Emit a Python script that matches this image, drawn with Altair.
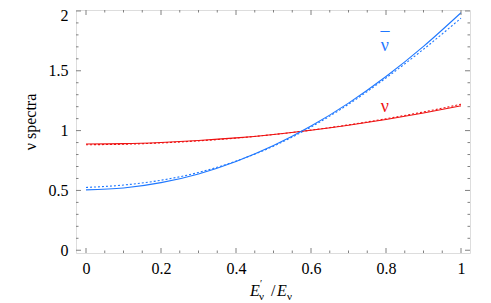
import altair as alt
import pandas as pd

# ---- data ----
x_vals = [0.0, 0.1, 0.2, 0.3, 0.4, 0.5, 0.6, 0.7, 0.8, 0.9, 1.0]
nu_solid = [0.888, 0.891, 0.901, 0.917, 0.939, 0.968, 1.003, 1.045, 1.093, 1.147, 1.207]
nu_dashed = [0.882, 0.886, 0.897, 0.914, 0.937, 0.967, 1.004, 1.048, 1.099, 1.156, 1.220]
nubar_solid = [0.505, 0.520, 0.565, 0.638, 0.742, 0.875, 1.038, 1.230, 1.452, 1.704, 1.985]
nubar_dashed = [0.525, 0.545, 0.585, 0.650, 0.745, 0.870, 1.030, 1.220, 1.440, 1.680, 1.940]

x_major = [0, 0.2, 0.4, 0.6, 0.8, 1.0]
x_minor = [round(0.05 * i, 2) for i in range(21) if i % 4 != 0]
y_major = [0, 0.5, 1.0, 1.5, 2.0]
y_minor = [round(0.1 * i, 1) for i in range(21) if i % 5 != 0]

labels = ["ν", "¯", "ν"]
label_x = [0.797, 0.797, 0.797]
label_y = [1.707, 1.707, 1.197]
label_dy = [0, -6, 0]
label_color = ["#1f78ff", "#1f78ff", "#ee1111"]

RED = "#ee1111"
BLUE = "#1f78ff"
W, H = 394, 243
FONT = "Liberation Serif"
GRAY = "#808080"

rows = []
for name, ys in [
    ("nu_solid", nu_solid),
    ("nu_dashed", nu_dashed),
    ("nubar_solid", nubar_solid),
    ("nubar_dashed", nubar_dashed),
]:
    for xv, yv in zip(x_vals, ys):
        rows.append({"x": xv, "y": yv, "series": name})
df = pd.DataFrame(rows)

xs = alt.Scale(domain=[-0.0267, 1.024], nice=False, zero=False)
ys_ = alt.Scale(domain=[-0.023, 2.008], nice=False, zero=False)

AX_X = alt.Axis(
    values=x_major, format="~g", title=None, domain=False, ticks=False, grid=False,
    labelFont=FONT, labelFontSize=16, labelColor="black", labelPadding=7)
AX_Y = alt.Axis(
    values=y_major, format="~g", title="ν spectra", domain=False, ticks=False, grid=False,
    labelFont=FONT, labelFontSize=16, labelColor="black", labelPadding=8,
    labelOffset={"condition": {"test": "datum.value == 2", "value": 5}, "value": 0},
    titleFont=FONT, titleFontSize=16, titleFontWeight="normal", titleColor="black",
    titleX=-41, titleY=H / 2 - 10, titleAngle=-90, titleAlign="center", titleBaseline="alphabetic")


def X():
    return alt.X("x:Q", scale=xs, axis=AX_X)


def Y():
    return alt.Y("y:Q", scale=ys_, axis=AX_Y)


lines = []
for name, col, dash in [
    ("nu_dashed", RED, [2, 2]),
    ("nubar_dashed", BLUE, [2, 2]),
    ("nu_solid", RED, None),
    ("nubar_solid", BLUE, None),
]:
    kw = dict(color=col, strokeWidth=1.1, interpolate="monotone")
    if dash:
        kw["strokeDash"] = dash
    lines.append(
        alt.Chart(df[df.series == name]).mark_line(**kw).encode(x=X(), y=Y())
    )

tick_color = GRAY


def xticks(vals, length):
    d = pd.DataFrame({"x": vals})
    bottom = alt.Chart(d).mark_rule(color=tick_color, strokeWidth=1).encode(
        x=X(), y=alt.value(H), y2=alt.value(H - length))
    top = alt.Chart(d).mark_rule(color=tick_color, strokeWidth=1).encode(
        x=X(), y=alt.value(0), y2=alt.value(length))
    return [bottom, top]


def yticks(vals, length):
    d = pd.DataFrame({"y": vals})
    left = alt.Chart(d).mark_rule(color=tick_color, strokeWidth=1).encode(
        y=Y(), x=alt.value(0), x2=alt.value(length))
    right = alt.Chart(d).mark_rule(color=tick_color, strokeWidth=1).encode(
        y=Y(), x=alt.value(W), x2=alt.value(W - length))
    return [left, right]


tick_layers = xticks(x_major, 5) + xticks(x_minor, 2.5) + yticks(y_major, 5) + yticks(y_minor, 2.5)

lab_layers = []
for t, lx, ly, dy, c in zip(labels, label_x, label_y, label_dy, label_color):
    lab_layers.append(
        alt.Chart(pd.DataFrame({"x": [lx], "y": [ly], "t": [t]})).mark_text(
            font=FONT, fontSize=18, baseline="middle", align="center", dy=dy, color=c
        ).encode(x=X(), y=Y(), text="t:N")
    )

# x-axis title E'_nu / E_nu built from text pieces
title_parts = pd.DataFrame({
    "t": ["E", "′", "ν", "/", "E", "ν"],
    "px": [174, 184, 183, 195, 201, 211],
    "py": [286, 277, 290, 286, 286, 290],
    "fs": [16, 10, 11, 16, 16, 11],
    "st": ["italic", "normal", "normal", "normal", "italic", "normal"],
})
title_layers = []
for _, r in title_parts.iterrows():
    title_layers.append(
        alt.Chart(pd.DataFrame({"t": [r.t]})).mark_text(
            font=FONT, fontSize=float(r.fs), fontStyle=r.st, align="left",
            baseline="alphabetic", color="black").encode(
            x=alt.value(float(r.px)), y=alt.value(float(r.py)), text="t:N")
    )

chart = alt.layer(*lines, *tick_layers, *lab_layers, *title_layers).properties(
    width=W, height=H,
    autosize=alt.AutoSizeParams(type="none"),
    padding={"left": 68, "top": 2, "right": 5, "bottom": 50},
).configure_view(stroke=GRAY, strokeWidth=1.2).configure(background="white")

chart.save("out.html", embed_options={"renderer": "svg", "actions": False})
